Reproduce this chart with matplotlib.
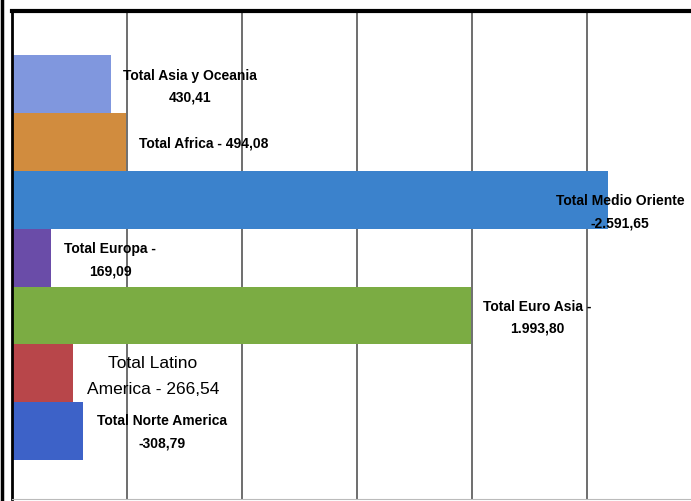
import matplotlib
matplotlib.use("Agg")
import matplotlib.pyplot as plt
from matplotlib.lines import Line2D

# data (bottom to top)
regions = ['Total Norte America', 'Total Latino America', 'Total Euro Asia',
           'Total Europa', 'Total Medio Oriente', 'Total Africa', 'Total Asia y Oceania']
values = [308.79, 266.54, 1993.80, 169.09, 2591.65, 494.08, 430.41]
labels = ['Total Norte America\n-308,79', 'Total Latino\nAmerica - 266,54',
          'Total Euro Asia -\n1.993,80', 'Total Europa -\n169,09',
          'Total Medio Oriente\n-2.591,65', 'Total Africa - 494,08',
          'Total Asia y Oceania\n430,41']
colors = ['#3d62c8', '#b8464a', '#7bac43', '#6a4ca8', '#3b82cc', '#d18c3e', '#8097de']

# label centres (data units)
lbl_x = [652, 613, 2283, 426, 2643, 835, 774]
lbl_y = [0.0, 0.96, 1.98, 2.97, 3.80, 4.98, 5.97]

fig = plt.figure(figsize=(6.91, 5.02), dpi=100)
ax = fig.add_axes([12 / 691, 2 / 502, 679 / 691, 488 / 502])

ys = range(len(values))
ax.barh(ys, values, height=1.0, color=colors, zorder=2)

ax.set_xlim(0, 679 / 0.23)
ax.set_ylim(-1.17, 7.26)
ax.set_xticks([500, 1000, 1500, 2000, 2500])
ax.grid(axis='x', color='#555555', linewidth=1.2, zorder=1)
ax.tick_params(left=False, bottom=False, labelleft=False, labelbottom=False)

ax.spines['right'].set_visible(False)
ax.spines['top'].set_linewidth(3)
ax.spines['left'].set_linewidth(2)
ax.spines['bottom'].set_color('#bbbbbb')

fam = ['Liberation Sans', 'DejaVu Sans']
for i, (lx, ly, t) in enumerate(zip(lbl_x, lbl_y, labels)):
    if i == 1:
        ax.text(lx, ly, t, ha='center', va='center', fontsize=12.5,
                family=fam, linespacing=1.9, zorder=3)
    else:
        ax.text(lx, ly, t, ha='center', va='center', fontsize=10,
                fontweight='bold', family=fam, linespacing=1.7, zorder=3)

# outer frame line on the far left
fig.add_artist(Line2D([2 / 691, 2 / 691], [0, 1], color='black', linewidth=2.5))

fig.savefig('out.png', dpi=100)
